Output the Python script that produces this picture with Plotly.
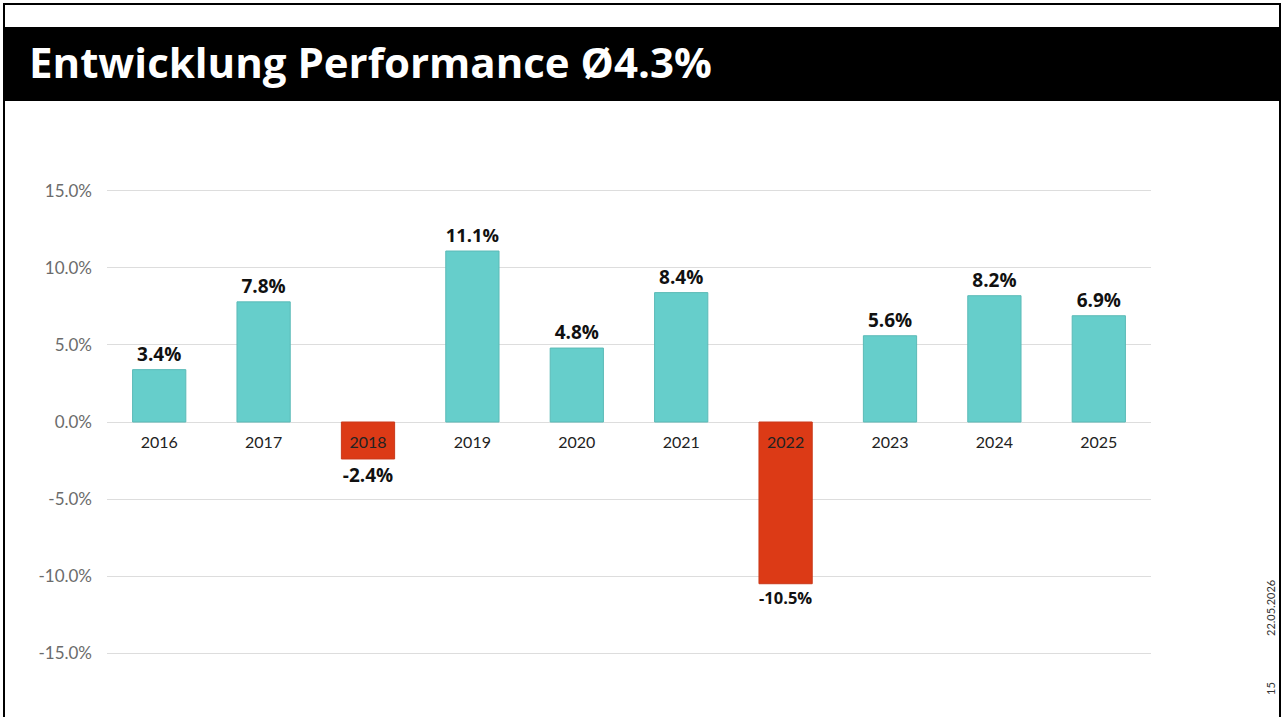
import plotly.graph_objects as go

years = ["2016", "2017", "2018", "2019", "2020", "2021", "2022", "2023", "2024", "2025"]
performance = [3.4, 7.8, -2.4, 11.1, 4.8, 8.4, -10.5, 5.6, 8.2, 6.9]
y_ticks = [-15, -10, -5, 0, 5, 10, 15]
y_tick_labels = ["-15.0%", "-10.0%", "-5.0%", "0.0%", "5.0%", "10.0%", "15.0%"]
title_text = "Entwicklung Performance Ø4.3%"
date_text = "22.05.2026"
page_text = "15"

W, H = 1283, 717
ML, MR, MT, MB = 107, 132, 168, 41
PW, PH = W - ML - MR, H - MT - MB

def px(x):
    return (x - ML) / PW

def py(y):
    return (H - MB - y) / PH

POS = "#66cecb"
NEG = "#dc3a16"
colors = [POS if v >= 0 else NEG for v in performance]
lines = ["#5bbab7" if v >= 0 else "#c9391a" for v in performance]

fig = go.Figure()
fig.add_trace(go.Bar(
    x=years, y=performance, width=0.51,
    marker=dict(color=colors, line=dict(color=lines, width=1)),
    text=[f"{v:.1f}%" for v in performance],
    textposition="outside",
    textfont=dict(family="Open Sans", size=19, color="#111111", weight="bold"),
    cliponaxis=False,
    hoverinfo="skip",
))

shapes = [
    dict(type="rect", xref="paper", yref="paper", x0=px(4), x1=px(1281), y0=py(101), y1=py(27),
         fillcolor="#000000", line=dict(width=0), layer="above"),
    dict(type="line", xref="paper", yref="paper", x0=px(4), x1=px(4), y0=py(3), y1=py(717),
         line=dict(color="#000000", width=2)),
    dict(type="line", xref="paper", yref="paper", x0=px(1280), x1=px(1280), y0=py(3), y1=py(717),
         line=dict(color="#000000", width=2)),
    dict(type="line", xref="paper", yref="paper", x0=px(3), x1=px(1281), y0=py(4), y1=py(4),
         line=dict(color="#000000", width=2)),
]

annotations = [
    dict(text=title_text, xref="paper", yref="paper", x=px(27), y=py(62), xanchor="left", yanchor="middle",
         showarrow=False, font=dict(family="Open Sans", size=42, color="#ffffff", weight="bold")),
    dict(text=date_text, xref="paper", yref="paper", x=px(1270), y=py(608), xanchor="center", yanchor="middle",
         textangle=-90, showarrow=False, font=dict(family="Lato", size=11, color="#333333")),
    dict(text=page_text, xref="paper", yref="paper", x=px(1270), y=py(689), xanchor="center", yanchor="middle",
         textangle=-90, showarrow=False, font=dict(family="Lato", size=11, color="#333333")),
]

fig.update_layout(
    width=W, height=H,
    margin=dict(l=ML, r=MR, t=MT, b=MB, pad=0),
    paper_bgcolor="#ffffff", plot_bgcolor="#ffffff",
    showlegend=False,
    shapes=shapes, annotations=annotations,
    bargap=0.49,
    xaxis=dict(
        type="category", range=[-0.5, 9.5], anchor="free", position=0.5,
        showgrid=False, showline=False, zeroline=False, ticks="",
        tickfont=dict(family="Lato", size=16, color="#222222"),
        ticklabelstandoff=9, fixedrange=True,
    ),
    yaxis=dict(
        range=[-16.49, 16.49], tickvals=y_ticks, ticktext=y_tick_labels,
        showgrid=True, gridcolor="#dddddd", gridwidth=1,
        zeroline=True, zerolinecolor="#dddddd", zerolinewidth=1,
        showline=False, ticks="",
        tickfont=dict(family="Lato", size=17, color="#6b6b6b"),
        ticklabelstandoff=14, fixedrange=True,
    ),
)

fig.write_html(
    "out.html",
    config={"displayModeBar": False, "staticPlot": True},
    post_script="document.body.style.margin='0px';document.body.style.overflow='hidden';",
)
